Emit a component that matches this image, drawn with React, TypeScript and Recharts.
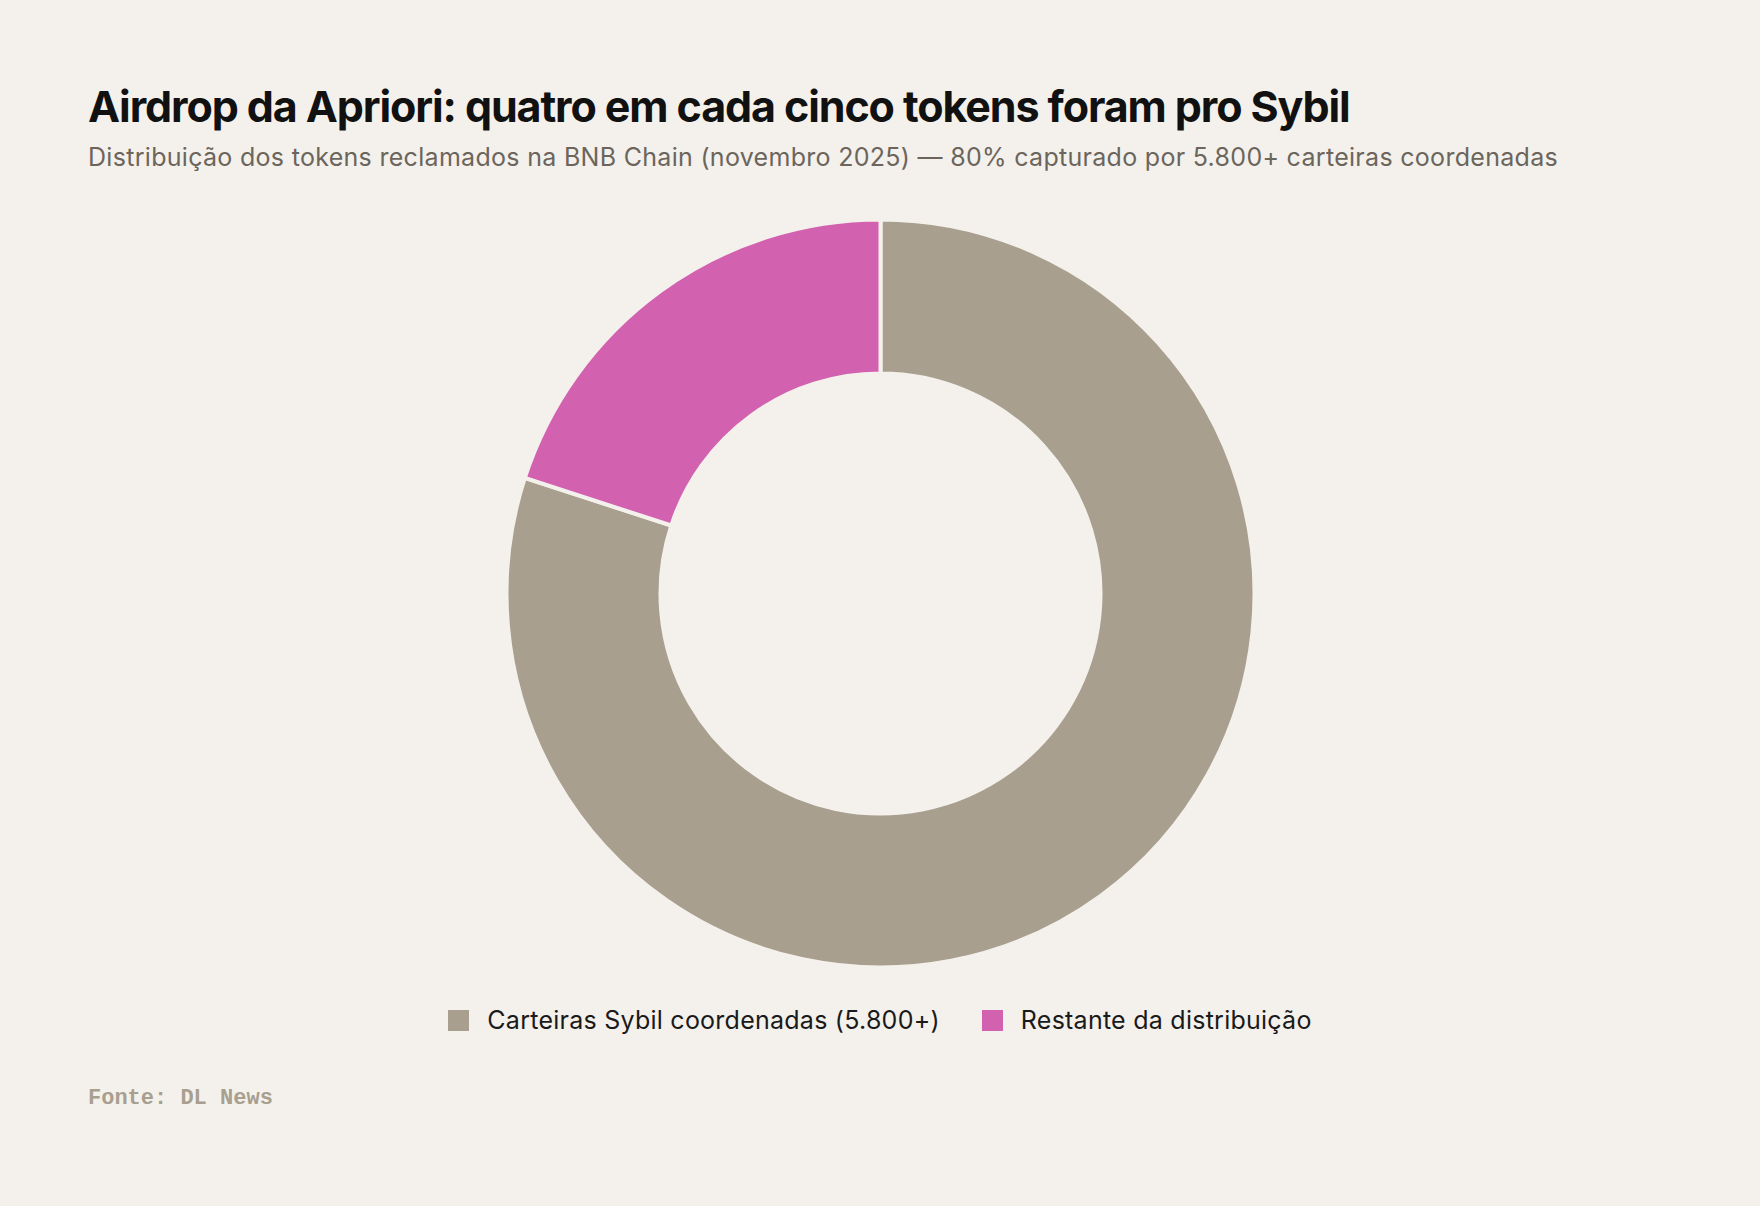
import { PieChart, Pie, Cell, Legend } from "recharts";

const categories = ["Carteiras Sybil coordenadas (5.800+)", "Restante da distribuição"];
const shares = [80, 20];
const colors = ["#a89f8f", "#d262b0"];

const data = categories.map((name, i) => ({ name, value: shares[i] }));

const BG = "#f4f1ec";

function LegendContent({ payload }: { payload?: any[] }) {
  return (
    <div style={{ display: "flex", justifyContent: "center", gap: 42, fontFamily: "Inter, sans-serif", fontSize: 25, letterSpacing: 0.25, color: "#1a1a1a" }}>
      {(payload || []).map((p: any) => (
        <div key={p.value} style={{ display: "flex", alignItems: "center" }}>
          <span style={{ width: 21, height: 21, background: p.color, marginRight: 18, display: "inline-block" }} />
          <span>{p.value}</span>
        </div>
      ))}
    </div>
  );
}

export default function App() {
  return (
    <div style={{ position: "absolute", left: 0, top: 0, width: 1760, height: 1206, background: BG, overflow: "hidden" }}>
      <div style={{ position: "absolute", left: 88, top: 80, fontFamily: "Inter, sans-serif", fontWeight: 700, fontSize: 43, letterSpacing: -1.1, color: "#111", whiteSpace: "nowrap" }}>
        Airdrop da Apriori: quatro em cada cinco tokens foram pro Sybil
      </div>
      <div style={{ position: "absolute", left: 88, top: 142, fontFamily: "Inter, sans-serif", fontSize: 25, letterSpacing: 0.3, color: "#6b655c", whiteSpace: "nowrap" }}>
        Distribuição dos tokens reclamados na BNB Chain (novembro 2025) — 80% capturado por 5.800+ carteiras coordenadas
      </div>
      <div style={{ position: "absolute", left: 0, top: 0 }}>
        <PieChart width={1760} height={1206}>
          <Pie
            data={data}
            dataKey="value"
            nameKey="name"
            cx={875.5}
            cy={588.5}
            innerRadius={220}
            outerRadius={374}
            startAngle={90}
            endAngle={-270}
            stroke={BG}
            strokeWidth={4}
            isAnimationActive={false}
          >
            {data.map((d, i) => (
              <Cell key={d.name} fill={colors[i]} />
            ))}
          </Pie>
          <Legend
            content={<LegendContent />}
            wrapperStyle={{ top: 1005, left: 0, width: 1760 }}
          />
        </PieChart>
      </div>
      <div style={{ position: "absolute", left: 88, top: 1086, fontFamily: "'Courier New', 'Liberation Mono', monospace", fontWeight: 700, fontSize: 22, color: "#a89f8f", whiteSpace: "nowrap" }}>
        Fonte: DL News
      </div>
    </div>
  );
}
